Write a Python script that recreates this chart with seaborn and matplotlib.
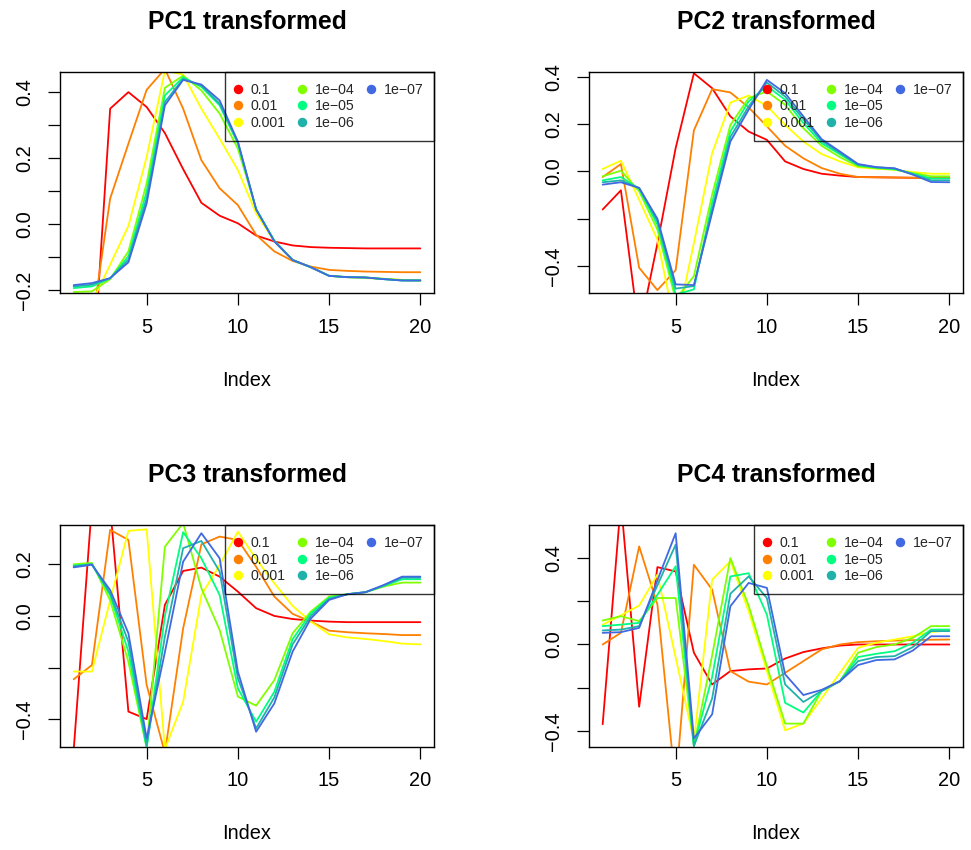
import matplotlib
matplotlib.use("Agg")
import matplotlib.pyplot as plt
from matplotlib.lines import Line2D
import numpy as np
import pandas as pd
import seaborn as sns

# ---- data -------------------------------------------------------------
index = list(range(1, 21))
lambdas = ["0.1", "0.01", "0.001", "1e\u221204", "1e\u221205", "1e\u221206", "1e\u221207"]
colors = ["#FF0000", "#FF8000", "#FFFF00", "#80FF00", "#00FF80", "#20B2AA", "#4169E1"]

# rows follow the order of `lambdas`
pc1 = [
    [-0.45, -0.50, 0.350, 0.400, 0.355, 0.276, 0.167, 0.065, 0.026, 0.003, -0.034, -0.052, -0.064, -0.069, -0.071, -0.072, -0.073, -0.073, -0.073, -0.073],
    [-0.28, -0.306, 0.078, 0.244, 0.407, 0.470, 0.350, 0.194, 0.109, 0.058, -0.032, -0.082, -0.111, -0.128, -0.138, -0.141, -0.143, -0.144, -0.145, -0.145],
    [-0.23, -0.237, -0.122, -0.005, 0.204, 0.465, 0.453, 0.350, 0.259, 0.164, 0.033, -0.052, -0.108, -0.130, -0.156, -0.160, -0.163, -0.165, -0.168, -0.170],
    [-0.205, -0.203, -0.166, -0.082, 0.124, 0.413, 0.450, 0.405, 0.335, 0.229, 0.046, -0.050, -0.108, -0.130, -0.156, -0.160, -0.161, -0.165, -0.169, -0.170],
    [-0.193, -0.188, -0.164, -0.097, 0.099, 0.390, 0.445, 0.416, 0.360, 0.244, 0.046, -0.050, -0.108, -0.130, -0.156, -0.160, -0.161, -0.166, -0.170, -0.170],
    [-0.188, -0.183, -0.163, -0.107, 0.079, 0.370, 0.440, 0.420, 0.365, 0.249, 0.045, -0.051, -0.108, -0.130, -0.156, -0.160, -0.161, -0.166, -0.170, -0.170],
    [-0.184, -0.178, -0.163, -0.115, 0.063, 0.360, 0.437, 0.423, 0.375, 0.250, 0.045, -0.052, -0.108, -0.130, -0.156, -0.160, -0.161, -0.166, -0.170, -0.170],
]
pc2 = [
    [-0.161, -0.080, -0.678, -0.305, 0.098, 0.414, 0.351, 0.232, 0.168, 0.133, 0.042, 0.010, -0.010, -0.018, -0.024, -0.025, -0.026, -0.027, -0.028, -0.028],
    [-0.024, 0.031, -0.407, -0.501, -0.417, 0.173, 0.347, 0.333, 0.270, 0.190, 0.108, 0.055, 0.014, -0.010, -0.024, -0.025, -0.026, -0.027, -0.028, -0.028],
    [0.010, 0.045, -0.120, -0.288, -0.664, -0.303, 0.077, 0.290, 0.320, 0.276, 0.196, 0.126, 0.073, 0.042, 0.017, 0.011, 0.007, -0.003, -0.010, -0.010],
    [-0.021, 0.003, -0.084, -0.246, -0.540, -0.442, -0.098, 0.196, 0.309, 0.337, 0.281, 0.182, 0.108, 0.060, 0.021, 0.013, 0.007, -0.007, -0.021, -0.021],
    [-0.038, -0.024, -0.074, -0.225, -0.520, -0.498, -0.133, 0.168, 0.295, 0.360, 0.302, 0.204, 0.119, 0.072, 0.026, 0.016, 0.010, -0.010, -0.030, -0.030],
    [-0.046, -0.038, -0.070, -0.210, -0.495, -0.484, -0.161, 0.145, 0.274, 0.375, 0.316, 0.220, 0.129, 0.078, 0.028, 0.017, 0.012, -0.012, -0.038, -0.038],
    [-0.056, -0.046, -0.070, -0.200, -0.477, -0.480, -0.175, 0.126, 0.260, 0.386, 0.330, 0.232, 0.136, 0.084, 0.031, 0.018, 0.013, -0.014, -0.045, -0.046],
]
pc3 = [
    [-0.520, 0.430, 0.420, -0.370, -0.399, 0.043, 0.174, 0.187, 0.152, 0.094, 0.030, 0.000, -0.012, -0.018, -0.022, -0.024, -0.024, -0.024, -0.024, -0.024],
    [-0.245, -0.190, 0.333, 0.294, -0.267, -0.530, -0.048, 0.277, 0.307, 0.294, 0.190, 0.075, 0.008, -0.022, -0.057, -0.063, -0.067, -0.070, -0.074, -0.074],
    [-0.215, -0.215, 0.060, 0.329, 0.335, -0.515, -0.332, 0.081, 0.197, 0.326, 0.220, 0.126, 0.039, -0.022, -0.071, -0.083, -0.089, -0.097, -0.107, -0.110],
    [0.200, 0.205, 0.060, -0.177, -0.510, 0.268, 0.359, 0.107, -0.054, -0.312, -0.347, -0.248, -0.067, 0.017, 0.075, 0.084, 0.092, 0.114, 0.129, 0.129],
    [0.195, 0.200, 0.080, -0.138, -0.510, 0.000, 0.324, 0.223, 0.081, -0.280, -0.409, -0.293, -0.090, 0.010, 0.070, 0.084, 0.092, 0.116, 0.142, 0.142],
    [0.192, 0.200, 0.087, -0.100, -0.500, -0.080, 0.262, 0.290, 0.172, -0.241, -0.435, -0.315, -0.110, 0.000, 0.066, 0.084, 0.092, 0.118, 0.148, 0.148],
    [0.188, 0.198, 0.100, -0.067, -0.474, -0.140, 0.210, 0.320, 0.223, -0.215, -0.448, -0.338, -0.138, -0.010, 0.062, 0.084, 0.092, 0.120, 0.152, 0.152],
]
pc4 = [
    [-0.369, 0.660, -0.288, 0.358, 0.338, -0.038, -0.185, -0.123, -0.115, -0.111, -0.065, -0.035, -0.018, -0.005, 0.000, 0.000, 0.000, 0.000, 0.000, 0.000],
    [0.000, 0.054, 0.454, 0.185, -0.660, 0.369, 0.254, -0.123, -0.172, -0.185, -0.131, -0.077, -0.023, 0.000, 0.011, 0.015, 0.018, 0.020, 0.022, 0.023],
    [0.092, 0.135, 0.180, 0.323, -0.060, -0.446, 0.300, 0.385, 0.154, -0.123, -0.397, -0.366, -0.250, -0.132, -0.015, 0.008, 0.023, 0.038, 0.058, 0.065],
    [0.111, 0.131, 0.108, 0.215, 0.215, -0.470, -0.050, 0.400, 0.180, -0.100, -0.366, -0.366, -0.215, -0.170, -0.038, -0.012, 0.000, 0.031, 0.085, 0.085],
    [0.085, 0.092, 0.100, 0.230, 0.362, -0.470, -0.150, 0.315, 0.330, 0.138, -0.270, -0.315, -0.215, -0.170, -0.058, -0.043, -0.031, 0.008, 0.069, 0.069],
    [0.065, 0.069, 0.085, 0.274, 0.462, -0.470, -0.250, 0.235, 0.315, 0.215, -0.185, -0.266, -0.215, -0.170, -0.077, -0.058, -0.054, -0.012, 0.062, 0.062],
    [0.054, 0.057, 0.077, 0.297, 0.515, -0.435, -0.323, 0.177, 0.285, 0.262, -0.138, -0.234, -0.210, -0.170, -0.095, -0.072, -0.069, -0.028, 0.038, 0.038],
]

titles = ["PC1 transformed", "PC2 transformed", "PC3 transformed", "PC4 transformed"]
panels = [pc1, pc2, pc3, pc4]
x_ticks = [5, 10, 15, 20]
y_ticks = [
    [-0.2, -0.1, 0.0, 0.1, 0.2, 0.3, 0.4],
    [-0.4, -0.2, 0.0, 0.2, 0.4],
    [-0.4, -0.2, 0.0, 0.2],
    [-0.4, -0.2, 0.0, 0.2, 0.4],
]
y_labels = [
    ["\u22120.2", "", "0.0", "", "0.2", "", "0.4"],
    ["\u22120.4", "", "0.0", "0.2", "0.4"],
    ["\u22120.4", "", "0.0", "0.2"],
    ["\u22120.4", "", "0.0", "", "0.4"],
]

# ---- style ------------------------------------------------------------
sns.set_theme(style="ticks")
plt.rcParams["font.family"] = ["Liberation Sans", "DejaVu Sans"]
plt.rcParams["axes.unicode_minus"] = True

W, H = 971, 850
fig = plt.figure(figsize=(W / 100, H / 100), dpi=100, facecolor="white")


def box(x0, y0, x1, y1):
    return [x0 / W, 1 - y1 / H, (x1 - x0) / W, (y1 - y0) / H]


boxes = [
    box(59.8, 71.7, 434.2, 293.3),
    box(588.8, 71.7, 963.2, 293.3),
    box(59.8, 525.0, 434.2, 746.7),
    box(588.8, 525.0, 963.2, 746.7),
]

for k, (values, title) in enumerate(zip(panels, titles)):
    ax = fig.add_axes(boxes[k])
    df = pd.DataFrame({
        "Index": np.tile(index, len(lambdas)),
        "value": np.concatenate(values),
        "lambda": np.repeat(lambdas, len(index)),
    })
    sns.lineplot(data=df, x="Index", y="value", hue="lambda",
                 hue_order=lambdas, palette=colors, legend=False,
                 estimator=None, sort=False, linewidth=1.3, ax=ax)

    # axis range taken from the last series, padded by 4 %
    ref = np.asarray(values[-1])
    lo, hi = ref.min(), ref.max()
    pad = 0.04 * (hi - lo)
    ax.set_ylim(lo - pad, hi + pad)
    ax.set_xlim(1 - 0.04 * 19, 20 + 0.04 * 19)

    for s in ax.spines.values():
        s.set_visible(True)
        s.set_color("black")
        s.set_linewidth(1.0)
    ax.grid(False)
    ax.set_facecolor("white")

    ax.set_xticks(x_ticks)
    ax.set_xticklabels([str(t) for t in x_ticks])
    ax.set_yticks(y_ticks[k])
    ax.set_yticklabels(y_labels[k], rotation=90, va="center")
    ax.tick_params(axis="both", direction="out", length=8.6, width=0.9,
                   color="black", labelsize=14.4, labelcolor="black")
    ax.tick_params(axis="x", pad=9)
    ax.tick_params(axis="y", pad=10)

    ax.set_xlabel("Index", fontsize=14.4, color="black")
    ax.xaxis.set_label_coords(0.5, -(371 - 293.3) / 221.6)
    ax.set_ylabel("")
    ax.set_title(title, fontsize=17.8, fontweight="bold", pad=31, color="black")

    handles = [Line2D([], [], marker="o", color=c, linestyle="none",
                      markersize=5.8) for c in colors]
    handles += [Line2D([], [], linestyle="none", marker="")] * 2
    labels = lambdas + ["", ""]
    leg = ax.legend(handles, labels, loc="upper right", ncol=3,
                    frameon=True, fancybox=False, edgecolor="black",
                    facecolor="none", borderaxespad=0, fontsize=10.2,
                    borderpad=0.77, handlelength=0.3, handletextpad=0.76,
                    columnspacing=0.98, labelspacing=0.19)
    leg.get_frame().set_linewidth(1.0)

fig.savefig("out.png", dpi=100, facecolor="white")
